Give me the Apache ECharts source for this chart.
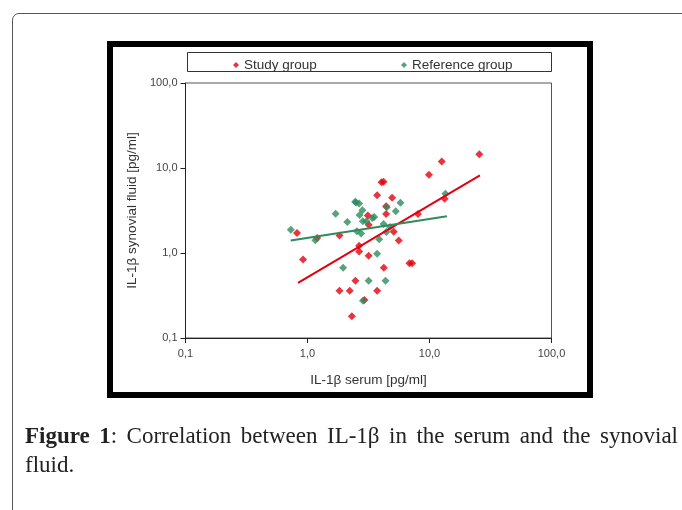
<!DOCTYPE html>
<html>
<head>
<meta charset="utf-8">
<script src="https://cdn.jsdelivr.net/npm/echarts@6/dist/echarts.min.js"></script>
<style>
  html, body { margin: 0; padding: 0; background: #fff; }
  body { width: 682px; height: 510px; position: relative; overflow: hidden; }
  #outer { position: absolute; left: 12px; top: 13px; width: 720px; height: 600px;
           border: 1.5px solid #555; border-radius: 7px; box-sizing: border-box; }
  #chart { position: absolute; left: 0; top: 0; width: 682px; height: 510px; }
  #caption { position: absolute; left: 25px; top: 421px; width: 653px;
             font-family: "Liberation Serif", "DejaVu Serif", serif; font-size: 23px;
             line-height: 29px; color: #222; text-align: justify; }
  #caption b { font-weight: bold; }
</style>
</head>
<body>
<div id="outer"></div>
<div id="chart"></div>
<div id="caption"><b>Figure 1</b>: Correlation between IL-1β in the serum and the synovial fluid.</div>
<script>
// ---- data ----
var seriesNames = ['Study group', 'Reference group'];
var xTitle = 'IL-1β serum [pg/ml]';
var yTitle = 'IL-1β synovial fluid [pg/ml]';
var studyPoints = [
  [0.82, 1.72], [0.92, 0.84], [1.20, 1.50], [1.83, 1.61], [1.83, 0.36], [2.22, 0.36],
  [2.31, 0.18], [2.47, 0.47], [2.65, 1.22], [2.65, 1.04], [2.93, 0.28], [3.12, 2.77],
  [3.17, 2.15], [3.17, 0.93], [3.72, 4.77], [3.72, 0.36], [4.04, 6.78], [4.20, 6.90],
  [4.22, 0.67], [4.41, 3.54], [4.41, 2.88], [4.94, 4.48], [5.09, 1.78], [5.60, 1.40],
  [6.85, 0.76], [7.20, 0.76], [8.05, 2.88], [9.90, 8.35], [12.6, 11.9], [13.3, 4.36],
  [25.6, 14.5]
];
var referencePoints = [
  [0.73, 1.88], [1.16, 1.41], [1.70, 2.90], [1.96, 0.67], [2.12, 2.31], [2.46, 4.02],
  [2.50, 3.93], [2.65, 3.82], [2.82, 3.18], [2.67, 2.80], [2.84, 2.36], [3.04, 2.36],
  [3.39, 2.58], [3.52, 2.65], [2.54, 1.80], [2.75, 1.70], [3.87, 1.45], [3.72, 0.98],
  [3.17, 0.47], [4.36, 0.47], [2.85, 0.275], [4.20, 2.19], [4.46, 3.45], [5.29, 3.09],
  [5.78, 3.91], [4.43, 1.77], [4.75, 2.02], [13.5, 4.99]
];
var studyTrend = [[0.836, 0.444], [25.9, 8.2]];
var referenceTrend = [[0.728, 1.40], [13.9, 2.70]];
var axisMin = 0.1, axisMax = 100;

var red = '#e3000f', green = '#2e8b5c';
function fmt(v) { return Number(v).toFixed(1).replace('.', ','); }

var chart = echarts.init(document.getElementById('chart'), null, { renderer: 'canvas' });
var font = '"Liberation Sans", Arial, sans-serif';
chart.setOption({
  animation: false,
  backgroundColor: 'transparent',
  graphic: [
    { type: 'rect', shape: { x: 110, y: 44, width: 480, height: 351 },
      style: { fill: '#fff', stroke: '#000', lineWidth: 6 }, z: -10 },
    { type: 'rect', shape: { x: 187.5, y: 52.5, width: 364, height: 19 },
      style: { fill: '#fff', stroke: '#333', lineWidth: 1 }, z: -5 }
  ],
  legend: [
    { data: [seriesNames[0]], left: 228, top: 53, icon: 'diamond', itemWidth: 6, itemHeight: 6,
      textStyle: { fontFamily: font, fontSize: 13.5, color: '#333' } },
    { data: [seriesNames[1]], left: 396, top: 53, icon: 'diamond', itemWidth: 6, itemHeight: 6,
      textStyle: { fontFamily: font, fontSize: 13.5, color: '#333' } }
  ],
  grid: { left: 185.5, top: 83, width: 366, height: 255, show: true,
          borderColor: '#555', borderWidth: 1, containLabel: false },
  xAxis: {
    type: 'log', logBase: 10, min: axisMin, max: axisMax,
    name: xTitle, nameLocation: 'middle', nameGap: 35,
    nameTextStyle: { fontFamily: font, fontSize: 13.5, color: '#333' },
    axisLine: { lineStyle: { color: '#222' } },
    axisTick: { show: true, length: 5, lineStyle: { color: '#222' } },
    minorTick: { show: false },
    splitLine: { show: false },
    axisLabel: { formatter: fmt, fontFamily: font, fontSize: 11, color: '#444', margin: 10 }
  },
  yAxis: {
    type: 'log', logBase: 10, min: axisMin, max: axisMax,
    name: yTitle, nameLocation: 'middle', nameGap: 46, nameRotate: 90,
    nameTextStyle: { fontFamily: font, fontSize: 13.5, color: '#333' },
    axisLine: { lineStyle: { color: '#222' } },
    axisTick: { show: true, length: 5, lineStyle: { color: '#222' } },
    splitLine: { show: false },
    axisLabel: { formatter: fmt, fontFamily: font, fontSize: 11, color: '#444', margin: 8 }
  },
  series: [
    { name: seriesNames[0], type: 'scatter', data: studyPoints, symbol: 'diamond', symbolSize: 8,
      itemStyle: { color: red }, z: 3 },
    { name: seriesNames[1], type: 'scatter', data: referencePoints, symbol: 'diamond', symbolSize: 8,
      itemStyle: { color: green }, z: 3 },
    { name: 'studyTrend', type: 'line', data: studyTrend, symbol: 'none',
      lineStyle: { color: red, width: 2 }, z: 4, silent: true },
    { name: 'referenceTrend', type: 'line', data: referenceTrend, symbol: 'none',
      lineStyle: { color: green, width: 2 }, z: 4, silent: true }
  ]
});
</script>
</body>
</html>
